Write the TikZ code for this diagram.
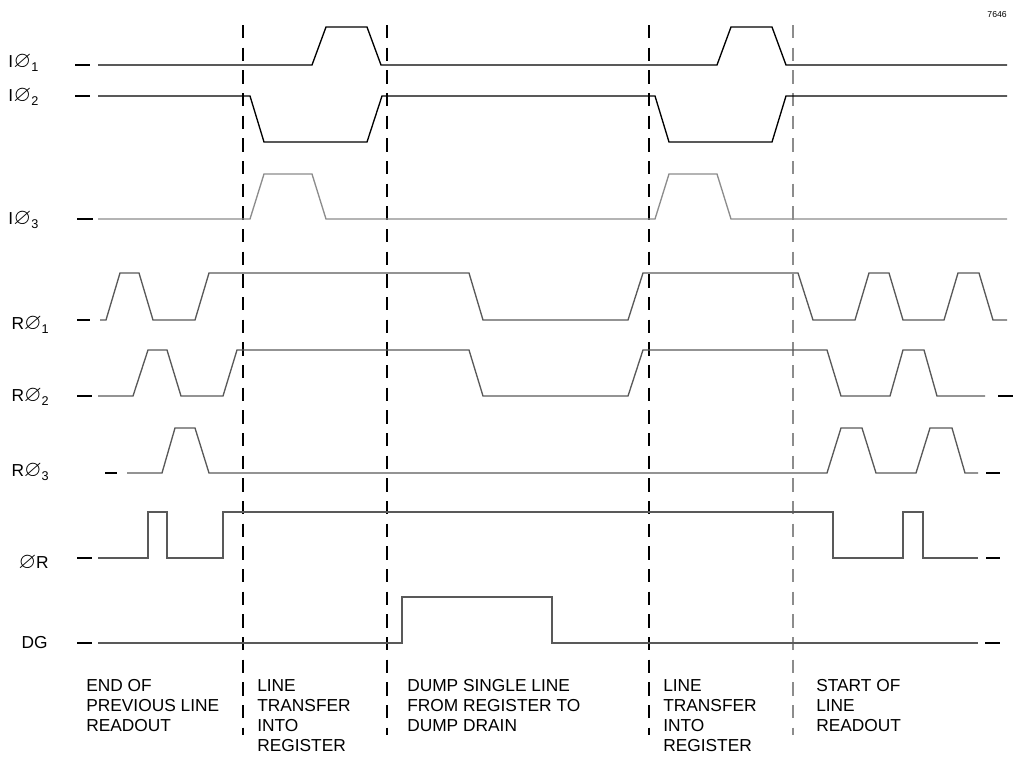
\documentclass[tikz,border=0pt]{standalone}
\usepackage{amssymb}
\usepackage{fontspec}
\setmainfont{Liberation Sans}
\newcommand{\phz}{{\fontsize{17}{17}\selectfont$\varnothing$}}
\newcommand{\sbs}[1]{\raisebox{-2.5pt}{\fontsize{9.5}{9.5}\selectfont #1}}
\begin{document}
\begin{tikzpicture}[x=0.75pt,y=-0.75pt,
  sig/.style={line width=1pt, line join=miter},
  blk/.style={sig, black},
  gry/.style={sig, color=black!45},
  dgry/.style={sig, color=black!65},
  tick/.style={line width=1pt, black},
  divider/.style={line width=1pt, dash pattern=on 10pt off 7pt},
  lbl/.style={inner sep=0pt, font=\fontsize{13}{15}\selectfont},
  phase/.style={inner sep=0pt, anchor=north west, align=left, font=\fontsize{13}{15}\selectfont}]
\useasboundingbox (0,0) rectangle (1015,760);

% dashed dividers
\coordinate (d1t) at (243,25); \coordinate (d1b) at (243,735);
\coordinate (d2t) at (387,25); \coordinate (d2b) at (387,735);
\coordinate (d3t) at (649,25); \coordinate (d3b) at (649,735);
\coordinate (d4t) at (793,25); \coordinate (d4b) at (793,735);
\draw[divider, black] (d1t) -- (d1b);
\draw[divider, black] (d2t) -- (d2b);
\draw[divider, black] (d3t) -- (d3b);
\draw[divider, black!45] (d4t) -- (d4b);

% left/right short ticks
\draw[tick] (75,65) -- (90,65);
\draw[tick] (75,96) -- (90,96);
\draw[tick] (77,219) -- (93,219);
\draw[tick] (77,320) -- (90,320);
\draw[tick] (77,396) -- (92,396);
\draw[tick] (105,473) -- (117,473);
\draw[tick] (77,558) -- (92,558);
\draw[tick] (77,643) -- (92,643);
\draw[tick] (998,396) -- (1013,396);
\draw[tick] (986,473) -- (1000,473);
\draw[tick] (986,558) -- (1000,558);
\draw[tick] (985,643) -- (1000,643);

% I phi 1
\draw[blk] (98,65) -- (312,65) -- (326,27) -- (367,27) -- (381,65) -- (717,65) -- (731,27) -- (772,27) -- (786,65) -- (1007,65);
% I phi 2
\draw[blk] (98,96) -- (250,96) -- (264,142) -- (367,142) -- (382,96) -- (655,96) -- (669,142) -- (772,142) -- (786,96) -- (1007,96);
% I phi 3
\draw[gry] (98,219) -- (250,219) -- (264,174) -- (312,174) -- (326,219) -- (655,219) -- (669,174) -- (717,174) -- (731,219) -- (1007,219);
% R phi 1
\draw[dgry] (100,320) -- (106,320) -- (120,273) -- (139,273) -- (153,320) -- (195,320) -- (209,273) -- (469,273) -- (483,320) -- (628,320) -- (643,273) -- (798,273) -- (813,320) -- (855,320) -- (869,273) -- (889,273) -- (903,320) -- (944,320) -- (958,273) -- (979,273) -- (993,320) -- (1007,320);
% R phi 2
\draw[dgry] (98,396) -- (133,396) -- (148,350) -- (167,350) -- (181,396) -- (223,396) -- (237,350) -- (469,350) -- (483,396) -- (628,396) -- (643,350) -- (827,350) -- (841,396) -- (890,396) -- (903,350) -- (924,350) -- (937,396) -- (985,396);
% R phi 3
\draw[dgry] (127,473) -- (162,473) -- (175,428) -- (195,428) -- (209,473) -- (827,473) -- (841,428) -- (862,428) -- (876,473) -- (916,473) -- (930,428) -- (952,428) -- (965,473) -- (978,473);
% phi R
\draw[dgry] (98,558) -- (148,558) -- (148,512) -- (167,512) -- (167,558) -- (223,558) -- (223,512) -- (833,512) -- (833,558) -- (903,558) -- (903,512) -- (923,512) -- (923,558) -- (978,558);
% DG
\draw[dgry] (98,643) -- (402,643) -- (402,597) -- (552,597) -- (552,643) -- (978,643);

% signal labels
\node[lbl, anchor=west] (l1) at (8,63) {I\kern0.5pt\phz\sbs{1}};
\node[lbl, anchor=west] (l2) at (8,97) {I\kern0.5pt\phz\sbs{2}};
\node[lbl, anchor=west] (l3) at (8,220) {I\kern0.5pt\phz\sbs{3}};
\node[lbl, anchor=east] (l4) at (49,325) {R\phz\sbs{1}};
\node[lbl, anchor=east] (l5) at (49,397) {R\phz\sbs{2}};
\node[lbl, anchor=east] (l6) at (49,472) {R\phz\sbs{3}};
\node[lbl, anchor=east] (l7) at (49,563) {\phz R};
\node[lbl, anchor=east] (l8) at (48,643) {DG};
\node[inner sep=0pt, anchor=east, font=\fontsize{6.5}{7}\selectfont] (fig) at (1007,15) {7646};

% phase descriptions
\node[phase] (p1) at (86,679) {END OF\\PREVIOUS LINE\\READOUT};
\node[phase] (p2) at (257,679) {LINE\\TRANSFER\\INTO\\REGISTER};
\node[phase] (p3) at (407,679) {DUMP SINGLE LINE\\FROM REGISTER TO\\DUMP DRAIN};
\node[phase] (p4) at (663,679) {LINE\\TRANSFER\\INTO\\REGISTER};
\node[phase] (p5) at (816,679) {START OF\\LINE\\READOUT};
\end{tikzpicture}
\end{document}
